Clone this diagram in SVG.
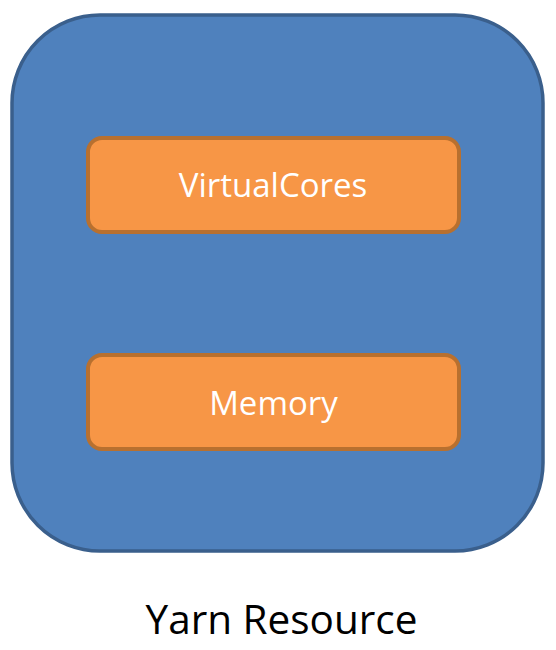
<svg xmlns="http://www.w3.org/2000/svg" width="556" height="650" viewBox="0 0 556 650">
<style>
.outer{fill:#4F81BD;stroke:#3A5F8C;stroke-width:3.5}
.box{fill:#F79646;stroke:#B8702F;stroke-width:4}
.lbl{fill:#FFFFFF;font-family:"Open Sans","Liberation Sans",sans-serif;font-size:33px;text-anchor:middle}
.title{fill:#000000;font-family:"Open Sans","Liberation Sans",sans-serif;font-size:40.5px;text-anchor:middle}
</style>
<g id="yarn-resource">
<rect class="outer" x="12" y="15" width="531" height="536" rx="88" ry="88"/>
</g>
<g id="virtualcores">
<rect class="box" x="88" y="138" width="371" height="94" rx="14" ry="14"/>
<text class="lbl" x="273" y="197">VirtualCores</text>
</g>
<g id="memory">
<rect class="box" x="88" y="355" width="371" height="94" rx="14" ry="14"/>
<text class="lbl" x="273.5" y="415">Memory</text>
</g>
<g id="connectors"></g>
<text class="title" x="281.5" y="634">Yarn Resource</text>
</svg>
